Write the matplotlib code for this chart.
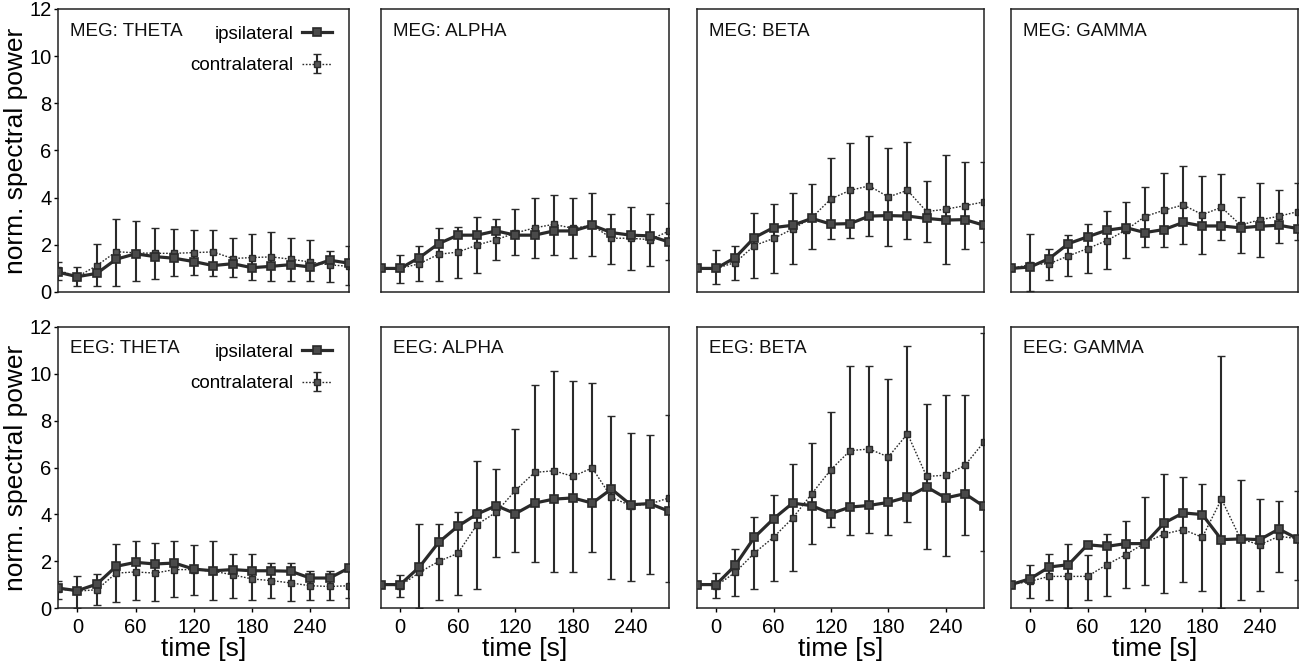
import matplotlib
matplotlib.use("Agg")
import matplotlib.pyplot as plt

plt.rcParams['font.family'] = ['Liberation Sans', 'DejaVu Sans']

time_s = [-20, 0, 20, 40, 60, 80, 100, 120, 140, 160, 180, 200, 220, 240, 260, 280]

# MEG
meg_theta_ipsi = [0.84, 0.65, 0.79, 1.39, 1.62, 1.50, 1.43, 1.29, 1.12, 1.20, 1.03, 1.09, 1.16, 1.06, 1.35, 1.22]
meg_theta_contra = [0.93, 0.65, 1.12, 1.71, 1.66, 1.64, 1.64, 1.67, 1.70, 1.42, 1.46, 1.49, 1.39, 1.27, 1.15, 1.09]
meg_theta_hi = [1.26, 1.07, 2.02, 3.10, 3.01, 2.70, 2.68, 2.63, 2.65, 2.27, 2.45, 2.56, 2.31, 2.20, 1.74, 1.94]
meg_theta_lo = [0.50, 0.27, 0.27, 0.25, 0.48, 0.55, 0.68, 0.72, 0.68, 0.64, 0.52, 0.47, 0.47, 0.47, 0.42, 0.28]

meg_alpha_ipsi = [1.0, 1.0, 1.46, 2.05, 2.41, 2.41, 2.59, 2.41, 2.41, 2.59, 2.59, 2.83, 2.52, 2.41, 2.38, 2.12]
meg_alpha_contra = [1.0, 1.0, 1.20, 1.60, 1.69, 1.99, 2.22, 2.50, 2.72, 2.87, 2.70, 2.83, 2.28, 2.28, 2.22, 2.58]
meg_alpha_hi = [1.0, 1.59, 1.94, 2.72, 2.76, 3.16, 3.09, 3.50, 4.00, 4.11, 4.00, 4.21, 3.31, 3.60, 3.31, 3.78]
meg_alpha_lo = [1.0, 0.40, 0.45, 0.47, 0.61, 0.82, 1.35, 1.59, 1.44, 1.59, 1.44, 1.52, 1.20, 0.92, 1.10, 1.35]

meg_beta_ipsi = [1.0, 1.0, 1.46, 2.31, 2.73, 2.83, 3.12, 2.88, 2.90, 3.22, 3.24, 3.22, 3.12, 3.05, 3.07, 2.83]
meg_beta_contra = [1.0, 1.0, 1.25, 1.97, 2.27, 2.67, 3.15, 3.95, 4.31, 4.50, 4.03, 4.31, 3.41, 3.51, 3.66, 3.82]
meg_beta_hi = [1.0, 1.80, 1.95, 3.37, 3.73, 4.18, 4.60, 5.69, 6.33, 6.61, 6.09, 6.36, 4.72, 5.81, 5.52, 5.52]
meg_beta_lo = [1.0, 0.33, 0.52, 0.59, 0.81, 1.18, 1.81, 2.25, 2.29, 2.38, 1.95, 2.24, 2.10, 1.20, 1.81, 2.12]

meg_gamma_ipsi = [1.0, 1.06, 1.42, 2.05, 2.34, 2.62, 2.73, 2.52, 2.65, 2.95, 2.80, 2.80, 2.72, 2.79, 2.83, 2.69]
meg_gamma_contra = [1.0, 1.16, 1.20, 1.53, 1.84, 2.18, 2.62, 3.20, 3.47, 3.69, 3.28, 3.59, 2.84, 3.06, 3.21, 3.41]
meg_gamma_hi = [1.0, 2.48, 1.84, 2.41, 2.88, 3.44, 3.80, 4.46, 5.03, 5.35, 4.92, 4.99, 4.04, 4.63, 4.32, 4.63]
meg_gamma_lo = [1.0, 0.03, 0.52, 0.67, 0.81, 0.96, 1.44, 1.91, 1.91, 2.05, 1.63, 2.22, 1.67, 1.49, 2.08, 2.20]

# EEG
eeg_theta_ipsi = [0.85, 0.74, 1.02, 1.78, 1.95, 1.88, 1.92, 1.66, 1.59, 1.64, 1.59, 1.59, 1.57, 1.28, 1.28, 1.71]
eeg_theta_contra = [0.82, 0.72, 0.78, 1.49, 1.54, 1.49, 1.64, 1.64, 1.57, 1.42, 1.24, 1.17, 1.07, 0.95, 0.92, 0.95]
eeg_theta_hi = [1.16, 1.35, 1.44, 2.75, 2.86, 2.78, 2.88, 2.67, 2.85, 2.32, 2.30, 1.94, 1.94, 1.56, 1.56, 1.78]
eeg_theta_lo = [0.38, 0.0, 0.12, 0.27, 0.35, 0.28, 0.47, 0.57, 0.35, 0.42, 0.35, 0.44, 0.28, 0.35, 0.34, 0.42]

eeg_alpha_ipsi = [1.0, 1.0, 1.75, 2.80, 3.49, 4.01, 4.37, 4.03, 4.48, 4.65, 4.70, 4.48, 5.08, 4.41, 4.46, 4.13]
eeg_alpha_contra = [1.0, 0.95, 1.52, 1.99, 2.33, 3.56, 4.09, 5.02, 5.79, 5.86, 5.62, 5.98, 4.73, 4.37, 4.44, 4.70]
eeg_alpha_hi = [1.0, 1.40, 3.60, 3.60, 4.09, 6.29, 5.95, 7.64, 9.54, 10.10, 9.68, 9.61, 8.19, 7.47, 7.37, 8.23]
eeg_alpha_lo = [1.0, 0.46, 0.0, 0.36, 0.57, 0.81, 2.18, 2.38, 1.96, 1.54, 1.52, 2.38, 1.25, 1.17, 1.47, 1.11]

eeg_beta_ipsi = [1.0, 1.0, 1.82, 3.02, 3.81, 4.48, 4.37, 4.03, 4.31, 4.38, 4.51, 4.74, 5.17, 4.70, 4.88, 4.34]
eeg_beta_contra = [1.0, 0.95, 1.52, 2.35, 3.02, 3.84, 4.88, 5.91, 6.72, 6.79, 6.45, 7.44, 5.62, 5.67, 6.09, 7.09]
eeg_beta_hi = [1.0, 1.49, 2.52, 3.87, 4.84, 6.16, 7.05, 8.36, 10.32, 10.32, 9.78, 11.20, 8.71, 9.11, 9.08, 11.74]
eeg_beta_lo = [1.0, 0.43, 0.50, 0.81, 1.14, 1.57, 2.73, 3.46, 3.13, 3.20, 3.13, 3.67, 2.52, 2.21, 3.13, 2.42]

eeg_gamma_ipsi = [1.0, 1.25, 1.75, 1.85, 2.70, 2.63, 2.75, 2.75, 3.63, 4.06, 3.99, 2.92, 2.95, 2.92, 3.37, 2.95]
eeg_gamma_contra = [1.0, 1.14, 1.35, 1.35, 1.35, 1.85, 2.28, 2.78, 3.16, 3.35, 3.02, 4.65, 2.95, 2.70, 3.06, 2.96]
eeg_gamma_hi = [1.0, 1.82, 2.31, 2.73, 2.28, 3.17, 3.70, 4.73, 5.74, 5.59, 5.31, 10.75, 5.48, 4.65, 4.58, 4.98]
eeg_gamma_lo = [1.0, 0.43, 0.36, 0.0, 0.36, 0.50, 0.85, 1.00, 0.64, 1.11, 0.71, 0.0, 0.36, 0.71, 1.52, 1.21]

titles = ['MEG: THETA', 'MEG: ALPHA', 'MEG: BETA', 'MEG: GAMMA',
          'EEG: THETA', 'EEG: ALPHA', 'EEG: BETA', 'EEG: GAMMA']
panels = [
    (meg_theta_ipsi, meg_theta_contra, meg_theta_lo, meg_theta_hi),
    (meg_alpha_ipsi, meg_alpha_contra, meg_alpha_lo, meg_alpha_hi),
    (meg_beta_ipsi, meg_beta_contra, meg_beta_lo, meg_beta_hi),
    (meg_gamma_ipsi, meg_gamma_contra, meg_gamma_lo, meg_gamma_hi),
    (eeg_theta_ipsi, eeg_theta_contra, eeg_theta_lo, eeg_theta_hi),
    (eeg_alpha_ipsi, eeg_alpha_contra, eeg_alpha_lo, eeg_alpha_hi),
    (eeg_beta_ipsi, eeg_beta_contra, eeg_beta_lo, eeg_beta_hi),
    (eeg_gamma_ipsi, eeg_gamma_contra, eeg_gamma_lo, eeg_gamma_hi),
]

W, H = 1300, 664
col_x = [(58, 349), (381, 669), (697, 984), (1011, 1298)]
row_y = [(9, 292), (327, 608)]

dark = '#2a2a2a'
fig = plt.figure(figsize=(13, 6.64), dpi=100)

for i, (ipsi, contra, lo, hi) in enumerate(panels):
    r, c = divmod(i, 4)
    x0, x1 = col_x[c]
    y0, y1 = row_y[r]
    ax = fig.add_axes([x0 / W, 1 - y1 / H, (x1 - x0) / W, (y1 - y0) / H])

    yerr = [[m - l for m, l in zip(contra, lo)], [h - m for m, h in zip(contra, hi)]]
    eb = ax.errorbar(time_s, contra, yerr=yerr, color=dark, ls=(0, (1.2, 1.2)), lw=1.0,
                     marker='s', ms=4, mfc='#555555', mec=dark, mew=1.0,
                     elinewidth=1.5, capsize=2.6, capthick=1.5, zorder=2)
    ln, = ax.plot(time_s, ipsi, color=dark, lw=2.3, marker='s', ms=6,
                  mfc='#4a4a4a', mec=dark, mew=1.2, zorder=3)

    ax.set_xlim(-20, 280)
    ax.set_ylim(0, 12)
    for s in ax.spines.values():
        s.set_linewidth(1.1)
        s.set_color('#222222')

    ax.text(0.042, 0.922, titles[i], transform=ax.transAxes, fontsize=13.5,
            ha='left', va='center', color='#111111')

    if c == 0:
        ax.set_yticks([0, 2, 4, 6, 8, 10, 12])
        ax.tick_params(axis='y', direction='out', length=3, width=1, pad=1.5,
                       labelsize=14.5)
        ax.set_ylabel('norm. spectral power', fontsize=19)
        ax.yaxis.set_label_coords(-0.102, 0.5)
        ax.legend([ln, eb], ['ipsilateral', 'contralateral'], loc='upper right',
                  frameon=False, markerfirst=False, fontsize=13.5,
                  handlelength=1.6, handletextpad=0.45, labelspacing=0.75,
                  borderaxespad=0.6, borderpad=0.3)
    else:
        ax.set_yticks([])

    if r == 1:
        ax.set_xticks([0, 60, 120, 180, 240])
        ax.tick_params(axis='x', direction='out', length=3, width=1, pad=4,
                       labelsize=14.5)
        ax.set_xlabel('time [s]', fontsize=19, labelpad=0)
    else:
        ax.set_xticks([])

fig.savefig('out.png', dpi=100)
